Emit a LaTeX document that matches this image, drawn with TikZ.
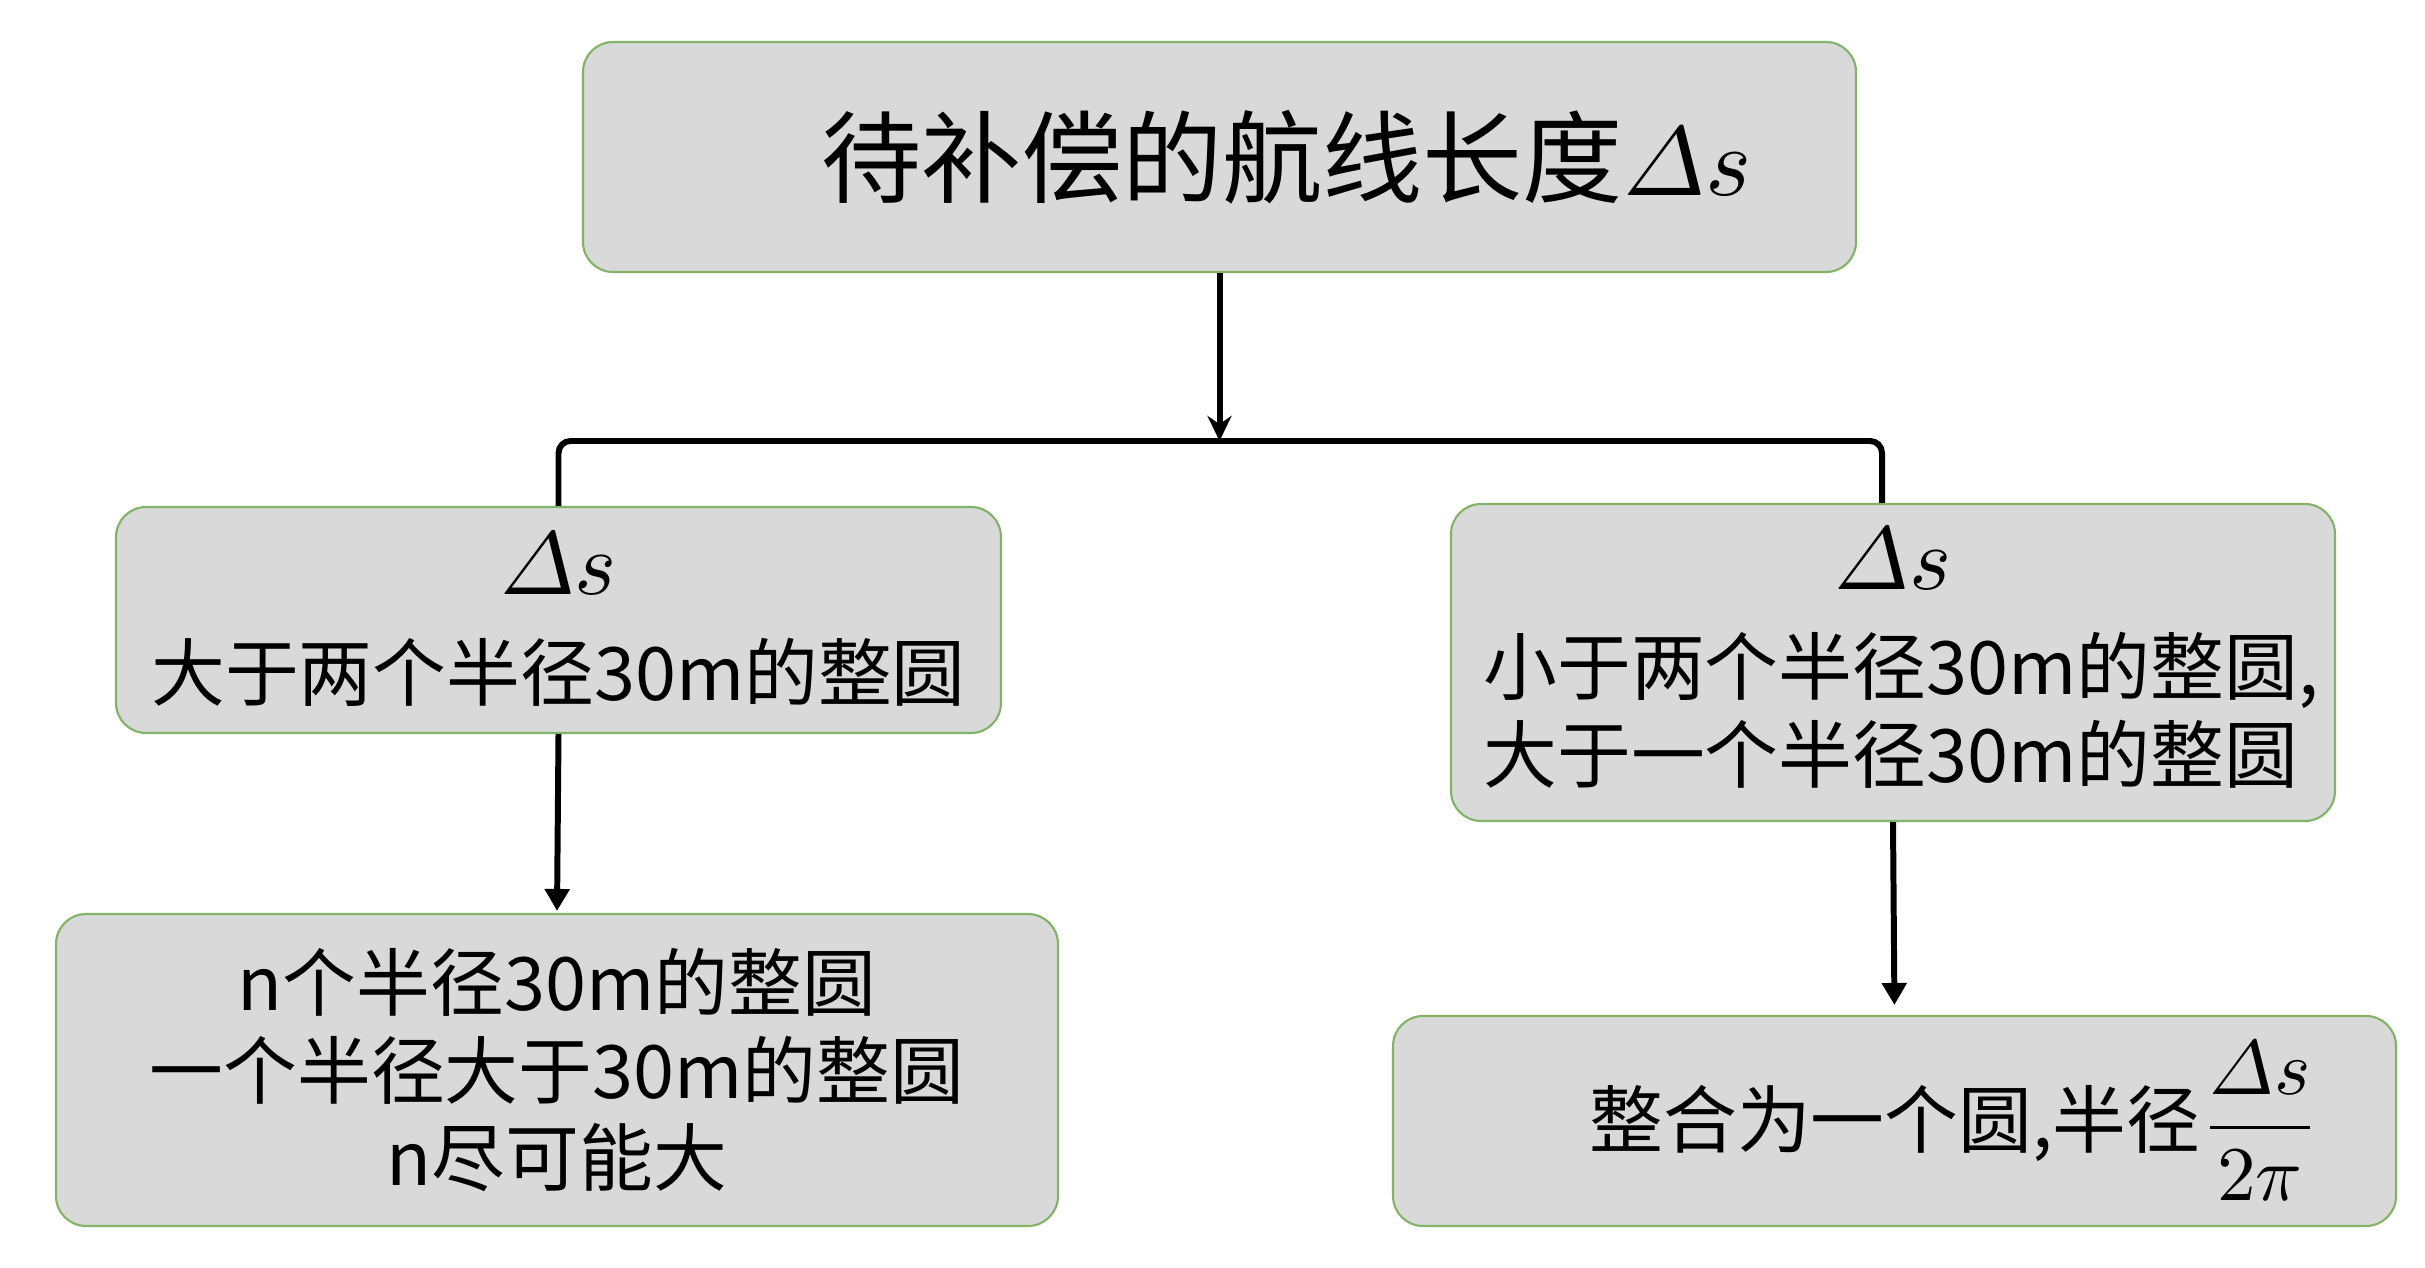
\documentclass[tikz,border=0pt]{standalone}
\usepackage{amsmath}
\usepackage{fontspec}
\newfontfamily\cjk{Noto Sans CJK SC}
\usetikzlibrary{arrows.meta}
\definecolor{boxgreen}{RGB}{130,179,102}
\definecolor{boxgray}{RGB}{217,217,217}
\newcommand{\ds}[1]{\scalebox{#1}{\fontsize{10}{12}\selectfont$\varDelta s$}}

\begin{document}
\begin{tikzpicture}
            [every node/.style={rectangle,rounded corners=0.3cm,draw=boxgreen,line width=0.6pt,fill=boxgray,
             align=center,inner sep=0pt,font=\cjk\fontsize{21}{25}\selectfont},
             link/.style={line width=1.7pt}]
            \useasboundingbox (0,0) rectangle (24.25,-12.68);
            \node[minimum width=12.73cm,minimum height=2.30cm,font=\cjk\fontsize{28.5}{33}\selectfont] (top) at (12.195,-1.57)
                {\hspace*{1.34cm}待补偿的航线长度\ds{2.8}};
            \node[minimum width=8.85cm,minimum height=2.26cm] (big) at (5.585,-6.20)
                {\ds{2.55}\\[5pt] 大于两个半径30m的整圆};
            \node[minimum width=8.84cm,minimum height=3.17cm] (small) at (18.93,-6.625)
                {\ds{2.55}\\[5pt] \hspace*{0.16cm}小于两个半径30m的整圆,\\ \hspace*{0.16cm}大于一个半径30m的整圆\phantom{,}};
            \node[minimum width=10.02cm,minimum height=3.12cm] (many) at (5.57,-10.70)
                {n个半径30m的整圆\\ 一个半径大于30m的整圆\\ n尽可能大};
            \node[minimum width=10.03cm,minimum height=2.10cm] (merge) at (18.945,-11.21)
                {\hspace*{1.2cm}整合为一个圆,半径\scalebox{2.2}{\fontsize{10}{12}\selectfont$\dfrac{\varDelta s}{2\pi}$}};
            \coordinate (hub) at (12.195,-4.41);

            \draw[link,-{Stealth[length=0.25cm,width=0.24cm]}] (top.south) -- (hub);
            \draw[link,rounded corners=0.12cm] (big.north) |- (hub) -| ([xshift=-0.11cm]small.north);
            \foreach \from/\to/\gap in {big/many/0.02cm, small/merge/0.1cm}
                \draw[link,-{Triangle[length=0.22cm,width=0.24cm]},shorten >=\gap] (\from.south) -- (\to.north);
        \end{tikzpicture}
\end{document}
